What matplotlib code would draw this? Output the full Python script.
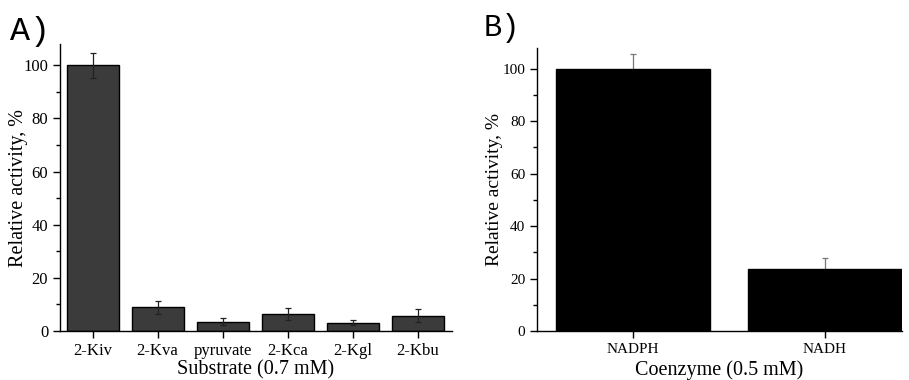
import matplotlib
matplotlib.use("Agg")
import matplotlib.pyplot as plt
from matplotlib.ticker import MultipleLocator

# panel A data
substrates = ['2-Kiv', '2-Kva', 'pyruvate', '2-Kca', '2-Kgl', '2-Kbu']
substrate_activity = [100, 8.9, 3.5, 6.5, 3.1, 5.8]
substrate_err = [4.6, 2.4, 1.2, 2.3, 1.0, 2.4]

# panel B data
coenzymes = ['NADPH', 'NADH']
coenzyme_activity = [100, 23.5]
coenzyme_err = [5.7, 4.2]

plt.rcParams['font.family'] = ['Liberation Serif', 'DejaVu Serif']

fig = plt.figure(figsize=(9.09, 3.8), dpi=100)

def style_axis(ax):
        ax.spines['top'].set_visible(False)
        ax.spines['right'].set_visible(False)
        ax.spines['left'].set_linewidth(1.0)
        ax.spines['bottom'].set_linewidth(1.0)
        ax.yaxis.set_major_locator(MultipleLocator(20))
        ax.yaxis.set_minor_locator(MultipleLocator(10))
        ax.tick_params(axis='y', which='major', direction='out', length=5, width=1)
        ax.tick_params(axis='y', which='minor', direction='out', length=3, width=1)
        ax.tick_params(axis='x', which='major', direction='out', length=5, width=1)
        ax.set_ylim(0, 108)

# ---- A ----
axA = fig.add_axes([0.066, 0.129, 0.431, 0.755])
xa = list(range(1, len(substrates) + 1))
axA.bar(xa, substrate_activity, width=0.8, color='#3b3b3b', edgecolor='black', linewidth=1.0, zorder=2)
axA.errorbar(xa, substrate_activity, yerr=substrate_err, fmt='none', ecolor='#222222',
             elinewidth=0.9, capsize=2.5, capthick=0.9, zorder=3)
style_axis(axA)
axA.set_xlim(0.5, 6.52)
axA.set_xticks(xa)
axA.set_xticklabels(substrates, fontsize=12)
axA.tick_params(axis='y', labelsize=12)
axA.set_ylabel('Relative activity, %', fontsize=14.5)
axA.yaxis.set_label_coords(-0.082, 0.5)
axA.set_xlabel('Substrate (0.7 mM)', fontsize=14.5, labelpad=1)
fig.text(0.011, 0.895, 'A)', fontsize=24, family=['Liberation Mono', 'DejaVu Sans Mono'])

# ---- B ----
axB = fig.add_axes([0.591, 0.129, 0.401, 0.745])
xb = list(range(1, len(coenzymes) + 1))
axB.bar(xb, coenzyme_activity, width=0.8, color='black', edgecolor='black', linewidth=1.0, zorder=2)
# lower half of the error bar sits behind the black bar
axB.errorbar(xb, coenzyme_activity, yerr=coenzyme_err, fmt='none', ecolor='#777777',
             elinewidth=0.9, capsize=2.5, capthick=0.9, zorder=1)
style_axis(axB)
axB.set_xlim(0.5, 2.4)
axB.set_xticks(xb)
axB.set_xticklabels(coenzymes, fontsize=11)
axB.tick_params(axis='y', labelsize=11)
axB.set_ylabel('Relative activity, %', fontsize=14)
axB.yaxis.set_label_coords(-0.093, 0.5)
axB.set_xlabel('Coenzyme (0.5 mM)', fontsize=14.5, labelpad=3)
fig.text(0.532, 0.905, 'B)', fontsize=22, family=['Liberation Mono', 'DejaVu Sans Mono'])

fig.savefig('out.png', dpi=100)
